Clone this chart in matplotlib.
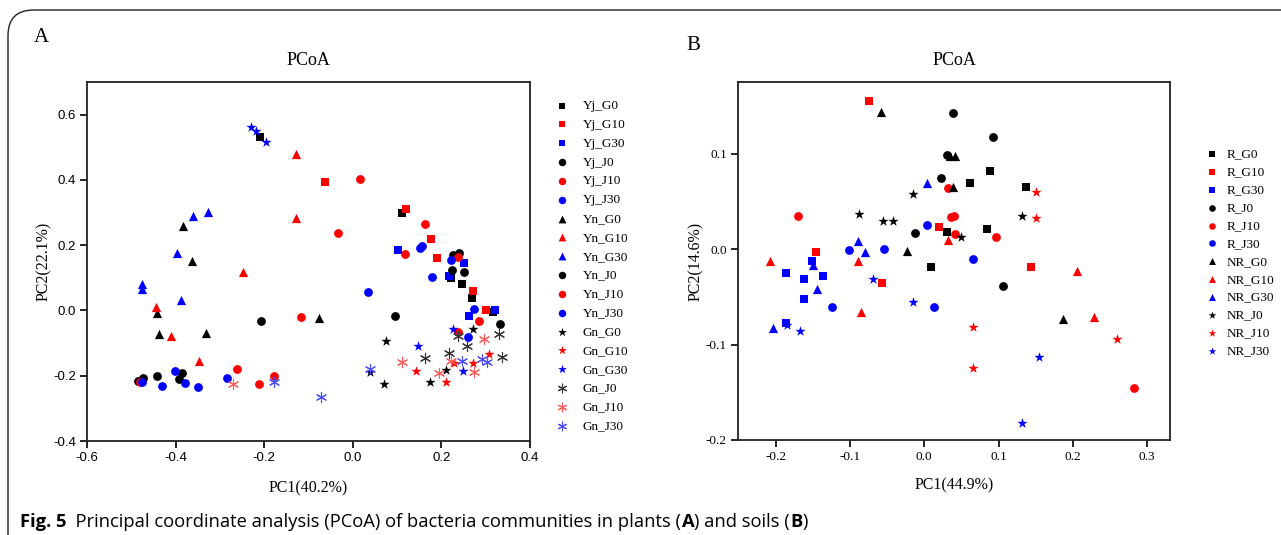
import matplotlib
matplotlib.use("Agg")
import matplotlib.pyplot as plt
from matplotlib.patches import FancyBboxPatch

# Panel A (plants): (PC1, PC2) pairs per group
yj_g0 = [(-0.21, 0.533), (0.111, 0.30), (0.221, 0.098), (0.246, 0.08), (0.268, 0.037), (0.316, -0.005)]
yj_g10 = [(-0.063, 0.395), (0.12, 0.31), (0.176, 0.22), (0.19, 0.16), (0.271, 0.059), (0.30, 0.0)]
yj_g30 = [(0.102, 0.184), (0.25, 0.144), (0.217, 0.105), (0.262, -0.018), (0.322, 0.0)]
yj_j0 = [(0.095, -0.018), (0.226, 0.169), (0.239, 0.175), (0.224, 0.123), (0.25, 0.117), (0.332, -0.042)]
yj_j10 = [(0.016, 0.404), (-0.034, 0.236), (0.162, 0.264), (0.117, 0.172), (0.237, 0.163), (0.284, -0.033)]
yj_j30 = [(0.034, 0.058), (0.151, 0.19), (0.156, 0.196), (0.178, 0.102), (0.221, 0.154), (0.273, 0.004), (0.26, -0.082)]
yn_g0 = [(-0.383, 0.258), (-0.363, 0.153), (-0.442, -0.009), (-0.438, -0.073), (-0.332, -0.07), (-0.077, -0.024)]
yn_g10 = [(-0.129, 0.478), (-0.129, 0.282), (-0.248, 0.117), (-0.444, 0.01), (-0.41, -0.079), (-0.347, -0.155)]
yn_g30 = [(-0.361, 0.288), (-0.327, 0.303), (-0.397, 0.175), (-0.476, 0.08), (-0.476, 0.067), (-0.388, 0.031)]
yn_j0 = [(-0.207, -0.033), (-0.485, -0.217), (-0.474, -0.208), (-0.442, -0.201), (-0.385, -0.192), (-0.392, -0.21)]
yn_j10 = [(-0.117, -0.021), (-0.262, -0.18), (-0.212, -0.226), (-0.178, -0.201), (-0.48, -0.219), (0.237, -0.067)]
yn_j30 = [(-0.476, -0.22), (-0.431, -0.232), (-0.401, -0.186), (-0.379, -0.223), (-0.35, -0.235), (-0.284, -0.207)]
gn_g0 = [(0.074, -0.094), (0.07, -0.226), (0.174, -0.22), (0.21, -0.183), (0.271, -0.058), (0.038, -0.19)]
gn_g10 = [(0.142, -0.186), (0.21, -0.22), (0.228, -0.162), (0.271, -0.162), (0.307, -0.134)]
gn_g30 = [(-0.23, 0.563), (-0.219, 0.551), (-0.196, 0.517), (0.147, -0.11), (0.226, -0.058), (0.248, -0.186)]
gn_j0 = [(0.162, -0.146), (0.217, -0.131), (0.237, -0.079), (0.257, -0.11), (0.329, -0.073), (0.336, -0.143)]
gn_j10 = [(0.111, -0.158), (0.194, -0.192), (0.296, -0.086), (0.273, -0.19), (0.221, -0.155), (-0.27, -0.226)]
gn_j30 = [(-0.072, -0.266), (0.038, -0.18), (0.246, -0.155), (0.291, -0.149), (0.302, -0.158), (-0.178, -0.219)]

labels_a = ["Yj_G0", "Yj_G10", "Yj_G30", "Yj_J0", "Yj_J10", "Yj_J30",
            "Yn_G0", "Yn_G10", "Yn_G30", "Yn_J0", "Yn_J10", "Yn_J30",
            "Gn_G0", "Gn_G10", "Gn_G30", "Gn_J0", "Gn_J10", "Gn_J30"]

# Panel B (soils)
r_g0 = [(0.089, 0.082), (0.062, 0.069), (0.137, 0.065), (0.030, 0.018), (0.085, 0.021), (0.009, -0.019)]
r_g10 = [(-0.074, 0.155), (-0.146, -0.003), (-0.057, -0.036), (0.020, 0.023), (0.144, -0.019)]
r_g30 = [(-0.186, -0.025), (-0.162, -0.031), (-0.162, -0.052), (-0.151, -0.013), (-0.137, -0.028), (-0.186, -0.077)]
r_j0 = [(0.039, 0.143), (0.092, 0.117), (0.031, 0.099), (0.023, 0.074), (-0.013, 0.017), (0.106, -0.039)]
r_j10 = [(-0.17, 0.035), (0.040, 0.035), (0.036, 0.034), (0.042, 0.016), (0.097, 0.013), (0.032, 0.064), (0.282, -0.146)]
r_j30 = [(-0.101, -0.001), (-0.054, 0.0), (0.004, 0.025), (-0.124, -0.061), (0.013, -0.061), (0.066, -0.01)]
nr_g0 = [(-0.058, 0.144), (0.042, 0.097), (0.035, 0.097), (0.038, 0.065), (-0.023, -0.002), (0.187, -0.073)]
nr_g10 = [(-0.208, -0.013), (-0.090, -0.012), (-0.085, -0.066), (0.032, 0.010), (0.206, -0.023), (0.229, -0.071)]
nr_g30 = [(0.003, 0.069), (-0.089, 0.008), (-0.080, -0.003), (-0.150, -0.017), (-0.144, -0.042), (-0.204, -0.083)]
nr_j0 = [(-0.015, 0.058), (-0.088, 0.037), (-0.055, 0.029), (-0.042, 0.029), (0.132, 0.035), (0.050, 0.013)]
nr_j10 = [(0.150, 0.060), (0.151, 0.033), (0.066, -0.082), (0.065, -0.125), (0.260, -0.094)]
nr_j30 = [(-0.069, -0.031), (-0.015, -0.055), (-0.185, -0.080), (-0.167, -0.086), (0.154, -0.113), (0.131, -0.182)]

labels_b = ["R_G0", "R_G10", "R_G30", "R_J0", "R_J10", "R_J30",
            "NR_G0", "NR_G10", "NR_G30", "NR_J0", "NR_J10", "NR_J30"]

RED = "#ff0000"
BLUE = "#0000ff"
ASTER = (6, 2, 0)

# marker, colour, size for each group
style_a = [("s", "k", 34), ("s", RED, 34), ("s", BLUE, 34),
           ("o", "k", 40), ("o", RED, 40), ("o", BLUE, 40),
           ("^", "k", 44), ("^", RED, 44), ("^", BLUE, 44),
           ("o", "k", 40), ("o", RED, 40), ("o", BLUE, 40),
           ("*", "k", 60), ("*", RED, 60), ("*", BLUE, 60),
           (ASTER, "#333333", 55), (ASTER, "#ff5a5a", 55), (ASTER, "#4b4bff", 55)]
style_b = style_a[:9] + style_a[12:15]

series_a = [yj_g0, yj_g10, yj_g30, yj_j0, yj_j10, yj_j30,
            yn_g0, yn_g10, yn_g30, yn_j0, yn_j10, yn_j30,
            gn_g0, gn_g10, gn_g30, gn_j0, gn_j10, gn_j30]
series_b = [r_g0, r_g10, r_g30, r_j0, r_j10, r_j30,
            nr_g0, nr_g10, nr_g30, nr_j0, nr_j10, nr_j30]

SERIF = "Liberation Serif"
SANS = "Liberation Sans"

W, H = 1281, 535
fig = plt.figure(figsize=(W / 100, H / 100), dpi=100)

# rounded border around the figure (right and bottom edges run off the picture)
border = FancyBboxPatch((8 / W, -0.2), 1.05, 1.2 - 10 / H, transform=fig.transFigure,
                        boxstyle="round,pad=0,rounding_size=0.02", fc="none",
                        ec="#222222", lw=1.0, mutation_aspect=W / H)
fig.patches.append(border)

ax_a = fig.add_axes([87 / W, 1 - 441 / H, 443 / W, 359 / H])
ax_b = fig.add_axes([738 / W, 1 - 440 / H, 432 / W, 358 / H])


def draw(ax, series, styles, labels):
    for pts, (m, c, s), lab in zip(series, styles, labels):
        xs = [p[0] for p in pts]
        ys = [p[1] for p in pts]
        if m == ASTER:
            ax.scatter(xs, ys, marker=m, s=s, c=c, linewidths=0.8, label=lab, zorder=3)
        else:
            ax.scatter(xs, ys, marker=m, s=s, c=c, linewidths=0, label=lab, zorder=3)


draw(ax_a, series_a, style_a, labels_a)
draw(ax_b, series_b, style_b, labels_b)

ax_a.set_xlim(-0.6, 0.4)
ax_a.set_ylim(-0.4, 0.7)
ax_a.set_xticks([-0.6, -0.4, -0.2, 0.0, 0.2, 0.4])
ax_a.set_yticks([-0.4, -0.2, 0.0, 0.2, 0.4, 0.6])
ax_a.xaxis.set_major_formatter(matplotlib.ticker.FormatStrFormatter("%.1f"))
ax_a.yaxis.set_major_formatter(matplotlib.ticker.FormatStrFormatter("%.1f"))

ax_b.set_xlim(-0.251, 0.331)
ax_b.set_ylim(-0.2, 0.175)
ax_b.set_xticks([-0.2, -0.1, 0.0, 0.1, 0.2, 0.3])
ax_b.set_yticks([-0.2, -0.1, 0.0, 0.1])
ax_b.xaxis.set_major_formatter(matplotlib.ticker.FormatStrFormatter("%.1f"))
ax_b.yaxis.set_major_formatter(matplotlib.ticker.FormatStrFormatter("%.1f"))

for ax, tfont in [(ax_a, SANS), (ax_b, SERIF)]:
    for sp in ax.spines.values():
        sp.set_linewidth(1.3)
        sp.set_color("#222222")
    ax.tick_params(direction="out", length=5, width=1.2, labelsize=9.5, pad=3)
    for t in ax.get_xticklabels() + ax.get_yticklabels():
        t.set_fontfamily(tfont)

ax_a.set_xlabel("PC1(40.2%)", fontfamily=SERIF, fontsize=11.5, labelpad=12)
ax_a.set_ylabel("PC2(22.1%)", fontfamily=SERIF, fontsize=11.5, labelpad=1)
ax_b.set_xlabel("PC1(44.9%)", fontfamily=SERIF, fontsize=11.5, labelpad=10)
ax_b.set_ylabel("PC2(14.6%)", fontfamily=SERIF, fontsize=11.5, labelpad=1)
ax_a.set_title("PCoA", fontfamily=SERIF, fontsize=13, pad=12)
ax_b.set_title("PCoA", fontfamily=SERIF, fontsize=13, pad=12)

fig.text(34 / W, 1 - 38 / H, "A", fontfamily=SERIF, fontsize=15, va="center")
fig.text(686 / W, 1 - 46 / H, "B", fontfamily=SERIF, fontsize=15, va="center")

ax_a.legend(loc="upper left", bbox_to_anchor=(1.045, 0.965), frameon=False,
            prop={"family": SERIF, "size": 9.5}, markerscale=0.85,
            labelspacing=0.5, handletextpad=1.1, borderaxespad=0, handlelength=1.0)
ax_b.legend(loc="upper left", bbox_to_anchor=(1.07, 0.83), frameon=False,
            prop={"family": SERIF, "size": 9.5}, markerscale=0.75,
            labelspacing=0.43, handletextpad=0.6, borderaxespad=0, handlelength=1.0)

# caption
cap = fig.text(20 / W, 1 - 531 / H, "Fig. 5", fontfamily="Open Sans", fontweight="bold",
               fontsize=13.2, va="bottom")
pieces = [("  Principal coordinate analysis (PCoA) of bacteria communities in plants (", "normal"),
          ("A", "bold"), (") and soils (", "normal"), ("B", "bold"), (")", "normal")]
prev = cap
for txt, wgt in pieces:
    prev = ax_a.annotate(txt, xy=(1, 0), xycoords=prev, va="bottom", ha="left",
                         fontfamily="Open Sans", fontweight=wgt, fontsize=13.2,
                         annotation_clip=False)

fig.savefig("out.png", dpi=100)
